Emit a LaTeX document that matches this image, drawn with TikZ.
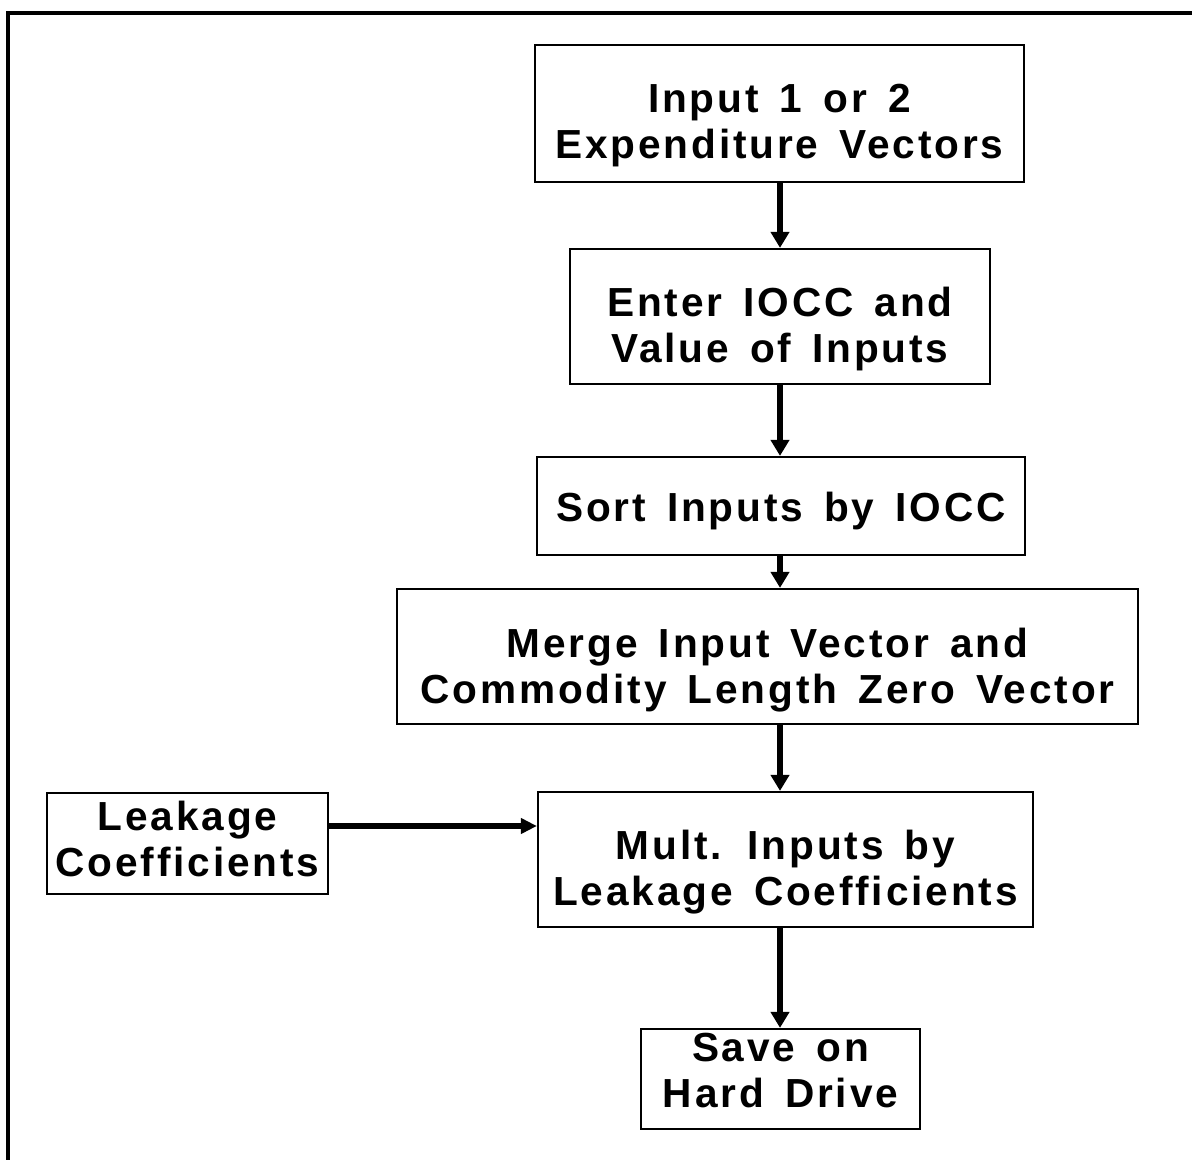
\documentclass[tikz,border=0pt]{standalone}
\usepackage{fontspec}
\setmainfont{Liberation Sans}[LetterSpace=7,WordSpace=1.5]
\usetikzlibrary{arrows.meta}
\begin{document}
\begin{tikzpicture}[x=0.5pt,y=-0.5pt,
  stepbox/.style={draw, line width=1.1pt, inner sep=0pt},
  txt/.style={align=center, inner sep=0pt,
    font=\bfseries\fontsize{20.3}{23}\selectfont},
  arr/.style={line width=3pt, -{Triangle[length=8pt,width=9pt]}},
  harr/.style={line width=3pt, -{Triangle[length=8pt,width=7.5pt]}}]
\useasboundingbox (0,0) rectangle (1192,1160);
\draw[line width=2pt] (1192,13) -- (8,13) -- (8,1160);
\node[stepbox, minimum width=244.5pt, minimum height=68.5pt,
  label={[txt, yshift=-6pt]center:{Input 1 or 2\\Expenditure Vectors}}] (b1) at (779.5,113.5) {};
\node[stepbox, minimum width=210pt, minimum height=67.5pt,
  label={[txt, yshift=-6.5pt]center:{Enter IOCC and\\Value of Inputs}}] (b2) at (780,316.5) {};
\node[stepbox, minimum width=244pt, minimum height=49pt,
  label={[txt, yshift=-2.5pt]center:{Sort Inputs by IOCC}}] (b3) at (781,506) {};
\node[stepbox, minimum width=370.5pt, minimum height=67.5pt,
  label={[txt, yshift=-7pt]center:{Merge Input Vector and\\Commodity Length Zero Vector}}] (b4) at (767.5,656.5) {};
\node[stepbox, minimum width=247.5pt, minimum height=67.5pt,
  label={[txt, yshift=-6.5pt]center:{Mult. Inputs by\\Leakage Coefficients}}] (b5) at (785.5,859.5) {};
\node[stepbox, minimum width=140.5pt, minimum height=50.5pt,
  label={[txt, yshift=2.5pt]center:{Leakage\\Coefficients}}] (lk) at (187.5,843.5) {};
\node[stepbox, minimum width=139.5pt, minimum height=50pt,
  label={[txt, yshift=4pt]center:{Save on\\Hard Drive}}] (sv) at (780.5,1079) {};
\coordinate (col) at (780,0);
\coordinate (hy) at (0,826);
\draw[arr] (b1.south -| col) -- (b2.north -| col);
\draw[arr] (b2.south -| col) -- (b3.north -| col);
\draw[arr] (b3.south -| col) -- (b4.north -| col);
\draw[arr] (b4.south -| col) -- (b5.north -| col);
\draw[arr] (b5.south -| col) -- (sv.north -| col);
\draw[harr] (lk.east |- hy) -- (b5.west |- hy);
\end{tikzpicture}
\end{document}
